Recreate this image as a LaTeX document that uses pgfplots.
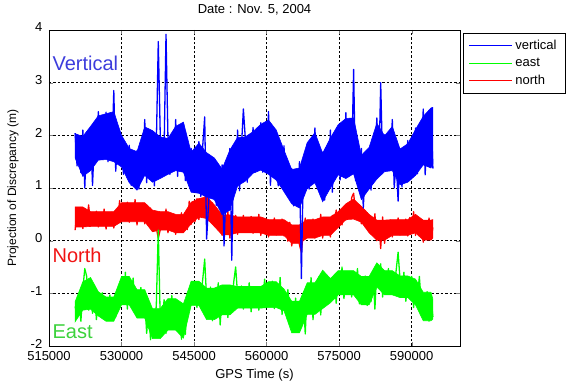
\documentclass[border=0pt]{standalone}
\usepackage{fontspec}
\setmainfont{Liberation Sans}
\usepackage{pgfplots}
\usepackage{pgfplotstable}
\pgfplotsset{compat=1.18}
\definecolor{vtxt}{RGB}{60,60,220}
\definecolor{ntxt}{RGB}{240,20,20}
\definecolor{etxt}{RGB}{60,210,60}
\pgfplotstableread{
t v e n
520400 2.04 -1.25 0.20
520800 1.42 -1.43 0.53
521200 1.80 -1.13 0.35
521600 1.29 -1.53 0.63
522000 2.10 -0.92 0.23
522400 1.00 -0.53 0.55
522800 2.00 -0.68 0.38
523200 1.59 -1.32 0.68
523600 2.14 -0.80 0.28
524000 1.05 -1.38 0.45
524400 1.93 -0.90 0.32
524800 1.62 -1.50 0.56
525200 2.45 -1.11 0.26
525600 1.59 -1.32 0.51
526000 2.14 -0.99 0.30
526400 1.71 -1.47 0.60
526800 2.44 -1.18 0.22
527200 1.50 -1.39 0.47
527600 2.29 -1.03 0.33
528000 1.62 -1.51 0.54
528400 2.85 -1.24 0.24
528800 1.32 -1.45 0.49
529200 1.95 -1.06 0.35
529600 1.57 -1.23 0.76
530000 1.98 -0.78 0.37
530400 1.26 -1.16 0.59
530800 1.75 -0.60 0.42
531200 1.37 -1.30 0.73
531600 1.81 -0.85 0.35
532000 1.05 -1.09 0.66
532400 1.39 -0.71 0.40
532800 1.08 -1.27 0.78
533200 1.71 -1.06 0.30
533600 0.98 -1.31 0.61
534000 1.69 -0.89 0.44
534400 1.22 -1.45 0.71
534800 2.30 -1.13 0.32
535200 1.10 -1.76 0.49
535600 1.91 -1.28 0.29
536000 1.40 -1.88 0.62
536400 2.05 -1.39 0.18
536800 1.04 -1.80 0.43
537200 1.84 -1.20 0.24
537600 3.78 0.20 0.05
538000 2.05 -1.46 0.20
538400 1.23 -1.56 0.49
538800 1.70 -1.12 0.24
539200 3.92 -1.76 0.60
539600 1.96 -1.24 0.15
540000 1.26 -1.52 0.39
540400 1.80 -1.04 0.24
540800 1.39 -1.68 0.48
541200 2.30 -1.32 0.12
541600 1.22 -1.60 0.42
542000 2.03 -1.19 0.26
542400 1.57 -1.87 0.53
542800 2.21 -1.31 0.17
543200 1.14 -1.78 0.37
543600 1.91 -1.10 0.21
544000 1.30 -1.30 0.75
544400 1.75 -0.91 0.31
544800 0.97 -1.12 0.66
545200 1.42 -0.79 0.36
545600 1.08 -1.27 0.80
546000 1.88 -0.88 0.40
546400 0.84 -1.09 0.69
546800 1.81 -0.73 0.54
547200 2.35 -0.35 0.78
547600 0.03 -1.12 1.03
548000 0.68 -1.40 0.59
548400 1.38 -0.88 0.39
548800 1.00 -1.52 0.72
549200 1.54 -1.00 0.28
549600 0.67 -1.44 0.53
550000 1.30 -0.80 0.34
550400 0.85 -1.60 0.50
550800 1.44 -1.01 0.10
551200 -0.10 -1.28 0.43
551600 0.96 -0.86 0.15
552000 0.68 -1.46 0.55
552400 1.75 -0.98 0.05
552800 -0.37 -1.24 0.38
553200 1.68 -0.79 0.20
553600 1.05 -0.50 0.48
554000 2.10 -1.02 0.12
554400 0.95 -1.21 0.38
554800 1.78 -0.86 0.24
555200 2.50 -1.30 0.48
555600 1.94 -0.94 0.16
556000 1.11 -1.24 0.34
556400 1.94 -0.80 0.20
556800 1.52 -1.35 0.46
557200 2.15 -0.99 0.14
557600 1.30 -1.19 0.40
558000 1.75 -0.88 0.18
558400 1.45 -1.32 0.50
558800 2.24 -0.97 0.10
559200 1.30 -1.12 0.31
559600 2.09 -0.73 0.17
560000 1.38 -1.25 0.39
560400 2.45 -0.96 0.07
560800 1.05 -1.19 0.33
561200 1.85 -0.77 0.19
561600 1.38 -1.29 0.43
562000 2.06 -0.86 0.11
562400 1.04 -1.22 0.29
562800 1.72 -0.70 0.15
563200 1.25 -1.40 0.41
563600 1.80 -1.04 0.09
564000 0.90 -1.24 0.35
564400 1.30 -0.93 -0.01
564800 0.88 -1.37 0.35
565200 1.37 -1.29 -0.10
565600 0.66 -1.57 0.19
566000 1.11 -1.09 0.04
566400 0.70 -1.73 0.28
566800 1.50 -1.37 -0.08
567200 -0.72 -1.65 -0.22
567600 1.42 -1.13 0.16
568000 1.12 -1.77 0.43
568400 1.83 -0.90 0.07
568800 0.98 -1.34 0.27
569200 1.88 -0.70 0.11
569600 1.41 -1.50 0.41
570000 2.14 -0.98 0.05
570400 1.06 -1.26 0.34
570800 1.52 -0.69 0.09
571200 1.00 -1.41 0.50
571600 1.68 -0.74 0.05
572000 0.77 -1.04 0.34
572400 1.60 -0.68 0.19
572800 1.02 -1.16 0.43
573200 2.10 -0.89 0.07
573600 0.92 -1.10 0.48
574000 1.94 -0.71 0.34
574400 1.46 -1.19 0.58
574800 2.16 -0.65 0.26
575200 1.15 -0.98 0.44
575600 2.00 -0.50 0.30
576000 1.52 -1.10 0.56
576400 2.43 -0.71 0.39
576800 1.30 -0.92 0.65
577200 2.05 -0.59 0.43
577600 1.48 -1.07 0.82
578000 3.25 -0.68 0.90
578400 1.14 -0.89 0.56
578800 1.89 -0.53 0.42
579200 1.04 -1.20 0.64
579600 1.75 -0.88 0.32
580000 0.62 -1.13 0.42
580400 1.35 -0.67 0.26
580800 1.05 -1.23 0.53
581200 1.74 -0.78 0.17
581600 0.96 -1.16 0.37
582000 1.83 -0.60 0.21
582400 1.44 -1.30 0.51
582800 2.33 -0.56 0.00
583200 1.26 -0.77 0.33
583600 3.00 -0.44 -0.15
584000 1.44 -1.07 0.45
584400 2.01 -0.68 -0.05
584800 1.34 -0.89 0.31
585200 1.90 -0.53 0.17
585600 1.44 -1.01 0.39
586000 2.30 -0.74 0.07
586400 1.00 -0.95 0.33
586800 1.52 -0.56 0.19
587200 0.75 -0.22 0.43
587600 1.72 -0.74 0.11
588000 1.02 -1.04 0.29
588400 1.63 -0.60 0.15
588800 1.32 -1.15 0.41
589200 1.90 -0.79 0.09
589600 1.15 -0.99 0.44
590000 1.60 -0.68 0.19
590400 1.32 -1.27 0.55
590800 2.14 -0.85 0.10
591200 1.27 -1.07 0.39
591600 2.10 -0.68 0.10
592000 1.49 -1.20 0.38
592400 2.50 -1.18 -0.03
592800 1.25 -1.43 0.30
593200 2.11 -0.97 0.13
593600 1.64 -1.53 0.43
594000 2.48 -1.08 0.03
594400 1.37 -1.45 0.25
}\gpsdata
\begin{document}
\begin{tikzpicture}
\useasboundingbox (-49pt,-36pt) rectangle (518pt,346pt);
\begin{axis}[
  at={(0,0)}, anchor=south west,
  scale only axis, width=411pt, height=316pt,
  xmin=515000, xmax=600000, ymin=-2, ymax=4,
  xtick={515000,530000,545000,560000,575000,590000},
  ytick={-2,-1,0,1,2,3,4},
  scaled x ticks=false,
  /pgf/number format/assume math mode=true,
  xticklabel style={/pgf/number format/fixed, /pgf/number format/precision=0, /pgf/number format/1000 sep={}, inner sep=0.5pt, yshift=-4.6pt},
  tick label style={font=\fontsize{13}{15}\selectfont},
  yticklabel style={inner sep=0.5pt, xshift=-6pt, yshift=2.5pt},
  tick align=inside, major tick length=4pt,
  axis line style={black, line width=0.6pt},
  grid=major,
  major grid style={black, dash pattern=on 2.5pt off 2pt, line width=0.5pt},
  title={Date : Nov. 5, 2004},
  title style={font=\fontsize{13}{15}\selectfont, at={(0.5,1.0459)}, anchor=center},
  xlabel={GPS Time (s)},
  xlabel style={font=\fontsize{13}{15}\selectfont, at={(0.5,-0.0918)}, anchor=center},
  ylabel={Projection of Discrepancy (m)},
  ylabel style={font=\fontsize{12}{14}\selectfont, at={(-0.0876,0.5)}, anchor=center},
  legend style={at={(1.0073,0.9905)}, anchor=north west,
    inner xsep=5.7pt, inner ysep=3pt, font=\fontsize{13}{15}\selectfont,
    nodes={inner xsep=3pt, inner ysep=3.7pt}, row sep=0pt},
  legend cell align=left,
  reverse legend,
  legend image code/.code={\draw[#1, line width=1pt] (0pt,0pt) -- (42.5pt,0pt);},
]
% north: dense core of the band, then the noisy trace
\addplot[fill=red, draw=red, line width=0.6pt, forget plot] coordinates {
(520400,0.64) (522000,0.64) (523600,0.55) (525200,0.55) (526800,0.55) (528400,0.55) (530000,0.72) (531600,0.72) (533200,0.72) (534800,0.72) (536400,0.58) (538000,0.55) (539600,0.55) (541200,0.50) (542800,0.50) (544400,0.73) (546000,0.80) (547600,0.83) (549200,0.68) (550800,0.49) (552400,0.49) (554000,0.45) (555600,0.45) (557200,0.45) (558800,0.45) (560400,0.40) (562000,0.40) (563600,0.40) (565200,0.30) (566800,0.30) (568400,0.40) (570000,0.40) (571600,0.45) (573200,0.45) (574800,0.55) (576400,0.70) (578000,0.79) (579600,0.65) (581200,0.50) (582800,0.39) (584400,0.39) (586000,0.40) (587600,0.40) (589200,0.40) (590800,0.50) (592400,0.39) (594000,0.39) (594400,0.40)
(594400,0.05) (594000,0.01) (592400,0.01) (590800,0.15) (589200,0.10) (587600,0.10) (586000,0.10) (584400,0.01) (582800,0.01) (581200,0.15) (579600,0.35) (578000,0.41) (576400,0.40) (574800,0.25) (573200,0.10) (571600,0.10) (570000,0.05) (568400,0.05) (566800,-0.05) (565200,-0.05) (563600,0.10) (562000,0.10) (560400,0.10) (558800,0.15) (557200,0.15) (555600,0.15) (554000,0.15) (552400,0.11) (550800,0.11) (549200,0.27) (547600,0.42) (546000,0.45) (544400,0.32) (542800,0.15) (541200,0.15) (539600,0.20) (538000,0.20) (536400,0.17) (534800,0.36) (533200,0.36) (531600,0.36) (530000,0.36) (528400,0.27) (526800,0.27) (525200,0.27) (523600,0.27) (522000,0.26) (520400,0.26)
} -- cycle;
\addplot[draw=red, line width=1.3pt, line join=round] table[x=t, y=n] {\gpsdata};
\addlegendentry{north}
% east
\addplot[fill=green, draw=green, line width=0.6pt, forget plot] coordinates {
(520400,-1.16) (522000,-0.78) (523600,-0.70) (525200,-0.97) (526800,-1.07) (528400,-1.07) (530000,-0.68) (531600,-0.68) (533200,-0.93) (534800,-0.93) (536400,-1.29) (538000,-1.29) (539600,-1.10) (541200,-1.10) (542800,-1.20) (544400,-0.77) (546000,-0.77) (547600,-0.90) (549200,-0.90) (550800,-0.84) (552400,-0.84) (554000,-0.87) (555600,-0.87) (557200,-0.87) (558800,-0.87) (560400,-0.78) (562000,-0.78) (563600,-0.92) (565200,-1.15) (566800,-1.15) (568400,-0.80) (570000,-0.80) (571600,-0.56) (573200,-0.72) (574800,-0.57) (576400,-0.57) (578000,-0.57) (579600,-0.68) (581200,-0.68) (582800,-0.42) (584400,-0.57) (586000,-0.57) (587600,-0.67) (589200,-0.67) (590800,-0.73) (592400,-0.98) (594000,-0.98) (594400,-1.11)
(594400,-1.49) (594000,-1.52) (592400,-1.52) (590800,-1.22) (589200,-1.08) (587600,-1.08) (586000,-1.03) (584400,-1.03) (582800,-0.88) (581200,-1.22) (579600,-1.22) (578000,-1.03) (576400,-1.03) (574800,-1.03) (573200,-1.18) (571600,-1.29) (570000,-1.40) (568400,-1.40) (566800,-1.75) (565200,-1.75) (563600,-1.33) (562000,-1.27) (560400,-1.27) (558800,-1.28) (557200,-1.28) (555600,-1.28) (554000,-1.28) (552400,-1.41) (550800,-1.41) (549200,-1.50) (547600,-1.50) (546000,-1.23) (544400,-1.23) (542800,-1.85) (541200,-1.70) (539600,-1.70) (538000,-1.86) (536400,-1.86) (534800,-1.47) (533200,-1.47) (531600,-1.22) (530000,-1.22) (528400,-1.53) (526800,-1.53) (525200,-1.43) (523600,-1.30) (522000,-1.32) (520400,-1.54)
} -- cycle;
\addplot[draw=green, line width=1.3pt, line join=round] table[x=t, y=e] {\gpsdata};
\addlegendentry{east}
% vertical
\addplot[fill=blue, draw=blue, line width=0.6pt, forget plot] coordinates {
(520400,2.03) (522000,1.98) (523600,2.17) (525200,2.37) (526800,2.41) (528400,2.45) (530000,2.00) (531600,1.75) (533200,1.69) (534800,2.16) (536400,2.09) (538000,1.97) (539600,1.94) (541200,2.17) (542800,2.25) (544400,1.68) (546000,1.85) (547600,1.67) (549200,1.57) (550800,1.36) (552400,1.72) (554000,1.96) (555600,1.97) (557200,2.07) (558800,2.21) (560400,2.29) (562000,2.10) (563600,1.72) (565200,1.35) (566800,1.38) (568400,1.86) (570000,2.05) (571600,1.66) (573200,1.95) (574800,2.20) (576400,2.32) (578000,2.33) (579600,1.62) (581200,1.77) (582800,2.23) (584400,1.99) (586000,2.17) (587600,1.74) (589200,1.84) (590800,2.11) (592400,2.36) (594000,2.52) (594400,2.53)
(594400,1.47) (594000,1.38) (592400,1.44) (590800,1.24) (589200,1.11) (587600,1.06) (586000,1.33) (584400,1.31) (582800,1.17) (581200,0.98) (579600,0.78) (578000,1.27) (576400,1.18) (574800,1.25) (573200,1.00) (571600,0.74) (570000,1.10) (568400,0.99) (566800,0.62) (565200,0.70) (563600,0.93) (562000,1.15) (560400,1.26) (558800,1.34) (557200,1.28) (555600,1.13) (554000,1.04) (552400,0.58) (550800,0.49) (549200,0.78) (547600,0.83) (546000,0.90) (544400,0.92) (542800,1.30) (541200,1.33) (539600,1.26) (538000,1.18) (536400,1.11) (534800,1.24) (533200,0.96) (531600,1.10) (530000,1.40) (528400,1.50) (526800,1.54) (525200,1.53) (523600,1.33) (522000,1.22) (520400,1.57)
} -- cycle;
\addplot[draw=blue, line width=1.3pt, line join=round] table[x=t, y=v] {\gpsdata};
\addlegendentry{vertical}
\node[anchor=west, inner sep=0pt, text=vtxt, font=\fontsize{20}{24}\selectfont] at (axis cs:515700,3.37) {Vertical};
\node[anchor=west, inner sep=0pt, text=ntxt, font=\fontsize{20}{24}\selectfont] at (axis cs:515700,-0.27) {North};
\node[anchor=west, inner sep=0pt, text=etxt, font=\fontsize{20}{24}\selectfont] at (axis cs:515700,-1.73) {East};
\end{axis}
\end{tikzpicture}
\end{document}
